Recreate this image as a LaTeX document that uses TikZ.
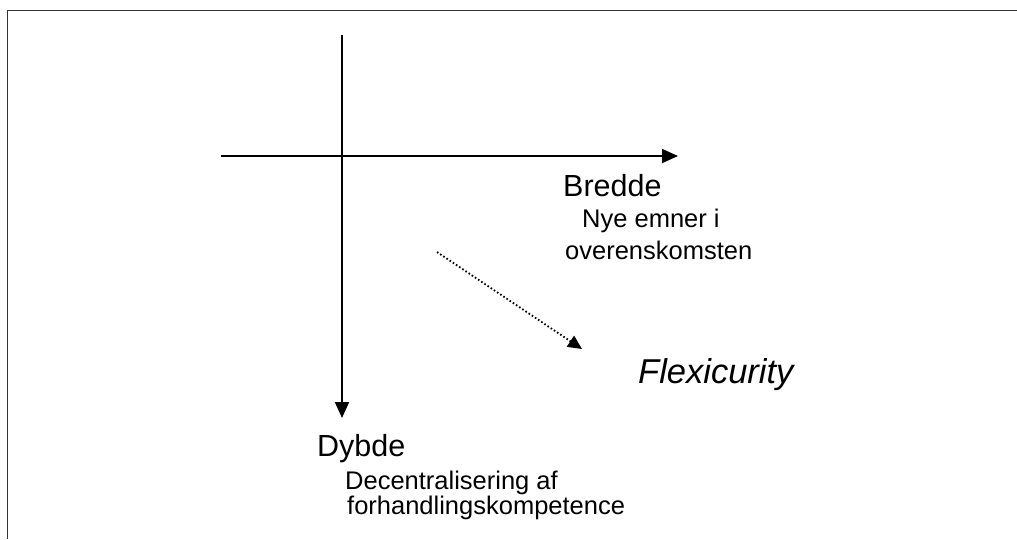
\documentclass[tikz,border=0pt]{standalone}
\usepackage{fontspec}
\setmainfont{Liberation Sans}
\usetikzlibrary{arrows.meta}
\tikzset{
  axis/.style={line width=1.8pt, -{Triangle[length=16pt,width=14pt]}},
  trend/.style={line width=1.8pt, dash pattern=on 1.6pt off 2.2pt,
    -{Triangle[length=14pt,width=13pt]}},
  head/.style={anchor=base west, inner sep=0pt, font=\fontsize{30.5}{36}\selectfont},
  sub/.style={anchor=base west, inner sep=0pt, font=\fontsize{25.5}{30}\selectfont},
  frameline/.style={line width=1.5pt, draw=black!80}
}
\begin{document}
\begin{tikzpicture}[x=1pt,y=-1pt]
  \useasboundingbox (0,0) rectangle (1017,539);
  % open frame: top and left edges only
  \draw[frameline] (7.5,539) -- (7.5,10.5) -- (1017,10.5);

  % axes
  \coordinate (hstart) at (221,156);
  \coordinate (hend) at (678,156);
  \coordinate (vstart) at (342,35);
  \coordinate (vend) at (342,418);
  \draw[axis] (hstart) -- (hend);
  \draw[axis] (vstart) -- (vend);

  % labels
  \node[head] (bredde) at (563,196) {Bredde};
  \node[sub] (nye) at (582,227) {Nye emner i};
  \node[sub] (over) at (565,259) {overenskomsten};
  \node[head] (dybde) at (317,456) {Dybde};
  \node[sub] (dec) at (345,489) {Decentralisering af};
  \node[sub] (forh) at (347,514) {forhandlingskompetence};
  \node[anchor=base west, inner sep=0pt, font=\fontsize{34.5}{40}\selectfont\itshape]
    (flex) at (638,383) {Flexicurity};

  % diagonal dotted arrow
  \coordinate (dstart) at (437,252);
  \coordinate (dend) at (582,349);
  \draw[trend] (dstart) -- (dend);
\end{tikzpicture}
\end{document}
